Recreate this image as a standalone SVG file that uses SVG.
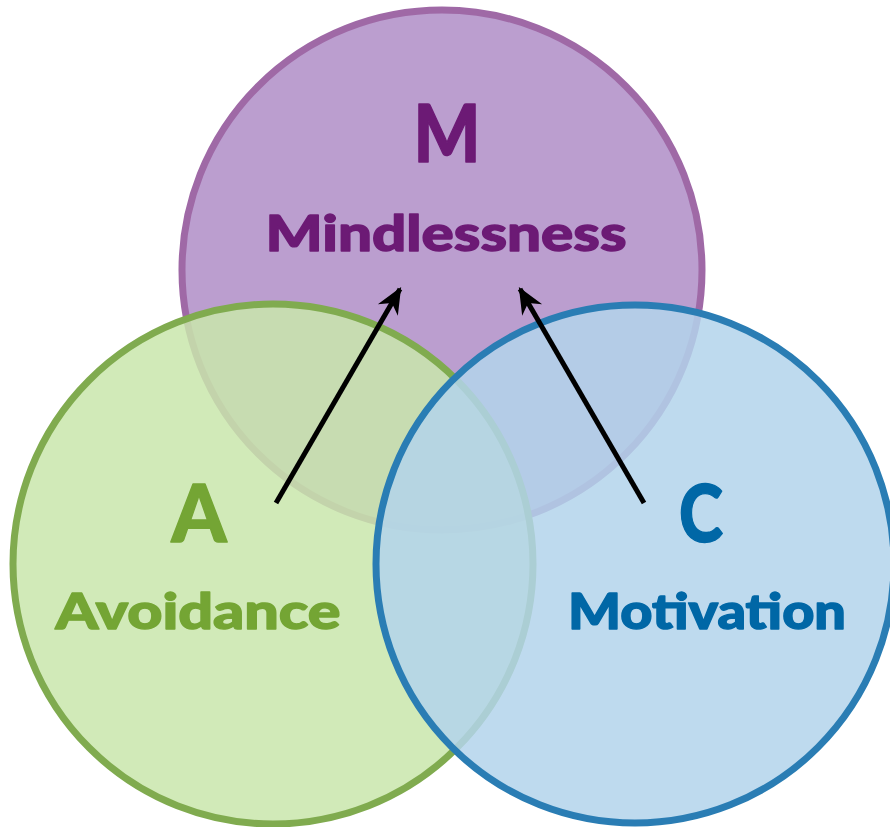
<svg xmlns="http://www.w3.org/2000/svg" width="890" height="827" viewBox="0 0 890 827">
<defs>
<style>
.lbl{font-family:Lato,"Liberation Sans",sans-serif;font-weight:900;text-anchor:middle;stroke-width:1.4;stroke-linejoin:round}
.big{font-size:80px}
.word{font-size:50px}
.m{fill:#6c1a75;stroke:#6c1a75}
.a{fill:#74a534;stroke:#74a534}
.c{fill:#0067a6;stroke:#0067a6}
.conn{stroke:#000;stroke-width:5;fill:none;marker-end:url(#ah)}
</style>
<marker id="ah" markerWidth="30" markerHeight="30" viewBox="-22 -12 26 24" refX="0" refY="0" orient="auto" markerUnits="userSpaceOnUse">
<path d="M2,0 L-21,-10 L-14,0 L-21,10 Z" fill="#000"/>
</marker>
</defs>
<rect width="890" height="827" fill="#fff"/>
<g id="node-m">
<circle cx="442" cy="270" r="260" fill="#bb9ecf" stroke="#9f69a6" stroke-width="7"/>
<text class="lbl big m" x="447" y="162" textLength="67" lengthAdjust="spacingAndGlyphs">M</text>
<text class="lbl word m" x="446" y="251" textLength="361" lengthAdjust="spacingAndGlyphs">Mindlessness</text>
</g>
<g id="node-a">
<circle cx="273" cy="564" r="260" fill="#c9e6ac" fill-opacity="0.85" stroke="#80ab4f" stroke-width="7"/>
<text class="lbl big a" x="199" y="542" textLength="55" lengthAdjust="spacingAndGlyphs">A</text>
<text class="lbl word a" x="198" y="629" textLength="285" lengthAdjust="spacingAndGlyphs">Avoidance</text>
</g>
<g id="node-c">
<circle cx="635" cy="564" r="259" fill="#b3d3eb" fill-opacity="0.85" stroke="#2a7db4" stroke-width="7"/>
<text class="lbl big c" x="701" y="542" textLength="44" lengthAdjust="spacingAndGlyphs">C</text>
<text class="lbl word c" x="707" y="629" textLength="278" lengthAdjust="spacingAndGlyphs">Motivation</text>
</g>
<g id="connectors">
<line class="conn" x1="276" y1="503" x2="400" y2="289"/>
<line class="conn" x1="644" y1="503" x2="520" y2="289"/>
</g>
</svg>
